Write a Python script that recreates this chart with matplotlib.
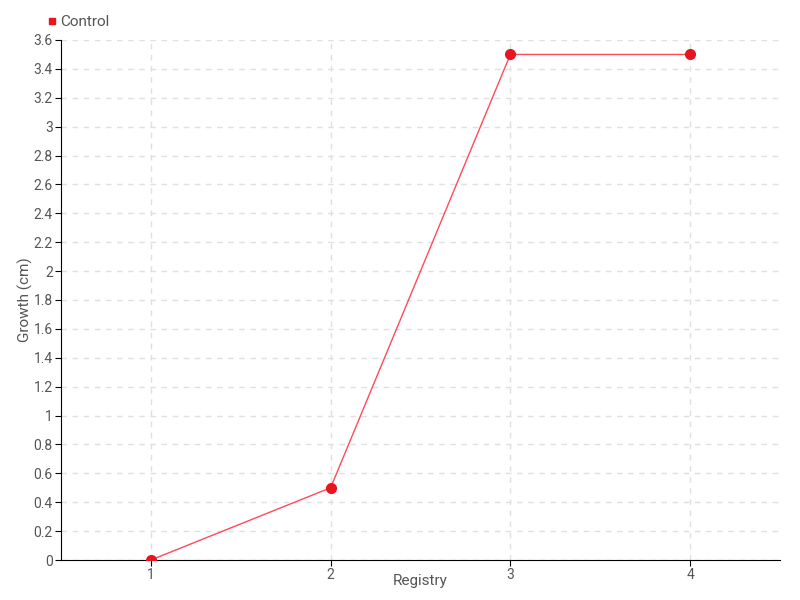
import matplotlib.pyplot as plt
from matplotlib.ticker import FuncFormatter, MultipleLocator
from matplotlib.lines import Line2D

registry = [1, 2, 3, 4]
growth = [0, 0.5, 3.5, 3.5]
series_name = 'Control'

plt.rcParams['font.family'] = ['Roboto', 'DejaVu Sans']

fig = plt.figure(figsize=(8, 6), dpi=100)
ax = fig.add_axes([61 / 800, 40 / 600, 719 / 800, 520 / 600])

ax.plot(registry, growth, color='#ff4a5a', linewidth=1, zorder=3)
ax.plot(registry, growth, linestyle='none', marker='o', markersize=7,
        color='#e8141e', zorder=4)

ax.set_xlim(0.5, 4.5)
ax.set_ylim(0, 3.6)
ax.set_xticks(registry)
ax.yaxis.set_major_locator(MultipleLocator(0.2))
ax.yaxis.set_major_formatter(FuncFormatter(lambda v, p: f'{v:.1f}'.rstrip('0').rstrip('.')))

ax.grid(True, color='#e0e0e0', linestyle=(0, (4, 4)), linewidth=1)
ax.set_axisbelow(True)
for side in ['top', 'right']:
    ax.spines[side].set_visible(False)
for side in ['left', 'bottom']:
    ax.spines[side].set_color('black')
ax.tick_params(colors='#555555', labelsize=10, length=4, direction='out', pad=2)
ax.tick_params(axis='both', color='black')

fig.text(420 / 800, 1 - 581 / 600, 'Registry', fontsize=11, color='#555555',
         ha='center', va='center')
fig.text(25 / 800, 1 - 300 / 600, 'Growth (cm)', fontsize=11, color='#555555',
         ha='center', va='center', rotation=90)

handle = Line2D([], [], linestyle='none', marker='s', markersize=5, color='#e8141e')
fig.legend([handle], [series_name], loc='center left', bbox_to_anchor=(46 / 800, 1 - 22 / 600),
           frameon=False, fontsize=11, handletextpad=0.1, handlelength=0.8,
           labelcolor='#555555', borderpad=0, borderaxespad=0)

fig.savefig('out.png', dpi=100)
